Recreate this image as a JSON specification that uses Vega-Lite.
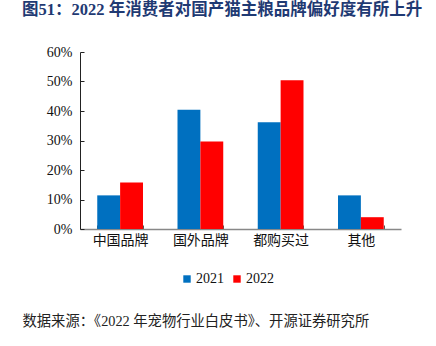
{
  "$schema": "https://vega.github.io/schema/vega-lite/v6.json",
  "autosize": "none",
  "width": 321,
  "height": 177,
  "padding": {"left": 80, "top": 52, "right": 35, "bottom": 117},
  "background": "white",
  "title": {
    "text": "图51：2022 年消费者对国产猫主粮品牌偏好度有所上升",
    "anchor": "start",
    "frame": "group",
    "dx": -58,
    "offset": 27,
    "font": "Liberation Serif, Times New Roman, DejaVu Serif, Noto Sans CJK SC, serif",
    "fontSize": 16.5,
    "fontWeight": "bold",
    "color": "#1F3A73"
  },
  "data": {
    "values": [
      {"cat": "中国品牌", "year": "2021", "v": 0.114},
      {"cat": "中国品牌", "year": "2022", "v": 0.158},
      {"cat": "国外品牌", "year": "2021", "v": 0.404},
      {"cat": "国外品牌", "year": "2022", "v": 0.297},
      {"cat": "都购买过", "year": "2021", "v": 0.362},
      {"cat": "都购买过", "year": "2022", "v": 0.504},
      {"cat": "其他", "year": "2021", "v": 0.114},
      {"cat": "其他", "year": "2022", "v": 0.040}
    ]
  },
  "mark": {"type": "bar"},
  "encoding": {
    "x": {
      "field": "cat",
      "type": "nominal",
      "sort": ["中国品牌", "国外品牌", "都购买过", "其他"],
      "scale": {"paddingInner": 0.43, "paddingOuter": 0.215},
      "axis": {
        "title": "数据来源：《2022 年宠物行业白皮书》、开源证券研究所",
        "titleX": -58,
        "titleY": 96,
        "titleAlign": "left",
        "titleBaseline": "alphabetic",
        "titleFont": "Liberation Serif, Times New Roman, DejaVu Serif, Noto Sans CJK SC, serif",
        "titleFontSize": 14.3,
        "titleFontWeight": "normal",
        "titleColor": "#222222",
        "labelAngle": 0,
        "labelFont": "Noto Sans CJK SC",
        "labelFontSize": 14,
        "labelColor": "#111111",
        "labelPadding": 8,
        "domainColor": "#888888",
        "domainWidth": 1.5,
        "tickBand": "extent",
        "tickSize": -4,
        "tickColor": "#555555"
      }
    },
    "xOffset": {"field": "year", "type": "nominal"},
    "y": {
      "field": "v",
      "type": "quantitative",
      "scale": {"domain": [0, 0.6]},
      "axis": {
        "title": null,
        "format": ".0%",
        "values": [0, 0.1, 0.2, 0.3, 0.4, 0.5, 0.6],
        "grid": false,
        "labelFont": "Liberation Serif, Times New Roman, DejaVu Serif, serif",
        "labelFontSize": 14,
        "labelColor": "#111111",
        "labelPadding": 12,
        "domainColor": "#222222",
        "tickColor": "#222222",
        "tickSize": -4
      }
    },
    "color": {
      "field": "year",
      "type": "nominal",
      "scale": {"domain": ["2021", "2022"], "range": ["#0070C0", "#FF0000"]},
      "legend": {
        "title": null,
        "orient": "none",
        "direction": "horizontal",
        "legendX": 100,
        "legendY": 220,
        "symbolType": "square",
        "symbolSize": 55,
        "symbolStrokeWidth": 0,
        "labelFont": "Liberation Serif, Times New Roman, DejaVu Serif, serif",
        "labelFontSize": 14,
        "labelColor": "#111111",
        "labelOffset": 2,
        "columnPadding": 6
      }
    }
  },
  "config": {
    "view": {"stroke": null}
  }
}
